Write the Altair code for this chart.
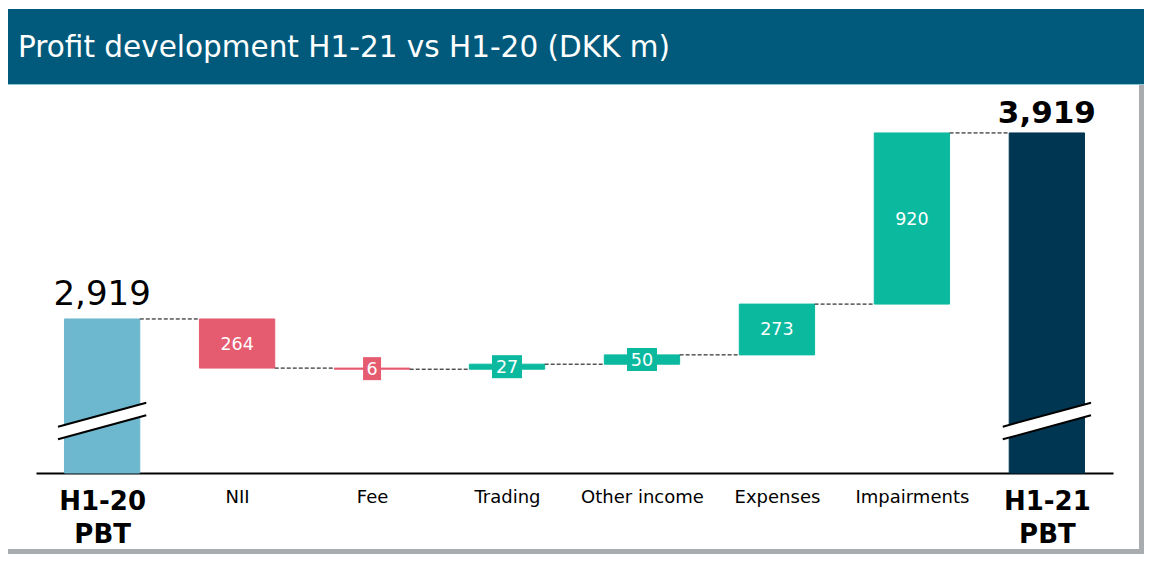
import json
import altair as alt
import pandas as pd

# ---- data ----
categories = ["H1-20 PBT", "NII", "Fee", "Trading", "Other income", "Expenses", "Impairments", "H1-21 PBT"]
axis_lines = [["H1-20", "PBT"], "NII", "Fee", "Trading", "Other income", "Expenses", "Impairments", ["H1-21", "PBT"]]
amounts = [2919, -264, -6, 27, 50, 273, 920, 3919]
kinds = ["start", "change", "change", "change", "change", "change", "change", "end"]
value_labels = ["2,919", "264", "6", "27", "50", "273", "920", "3,919"]
title_text = "Profit development H1-21 vs H1-20 (DKK m)"

# ---- layout / style ----
PLOT_W, PLOT_H = 1077, 378
X_LO, X_HI = -0.49, 7.49
Y_LO, Y_HI = 2091, 4123          # broken value axis
HALF = 0.279                     # half bar width in x units
FONT = "DejaVu Sans"
C_START, C_END, C_POS, C_NEG = "#6db8ce", "#003652", "#0bb99f", "#e55b6f"
HEADER = "#015a7b"
BORDER = "#a9acaf"

px_y = PLOT_H / (Y_HI - Y_LO)
px_x = PLOT_W / (X_HI - X_LO)

rows, conns, breaks = [], [], []
running = 0
for i, (cat, v, k, lab) in enumerate(zip(categories, amounts, kinds, value_labels)):
    if k == "change":
        base, top = running, running + v
        color = C_POS if v >= 0 else C_NEG
    else:
        base, top = 0, v
        color = C_START if k == "start" else C_END
    running = top
    lo, hi = min(base, top), max(base, top)
    mid = (max(lo, Y_LO) + hi) / 2
    bw = (6 + 12 * len(lab)) / px_x / 2
    bh = 11.5 / px_y
    rows.append(dict(idx=i, cat=cat, kind=k, x0=i - HALF, x1=i + HALF, lo=lo, hi=hi,
                     mid=mid, color=color, label=lab,
                     bx0=i - bw, bx1=i + bw, by0=mid - bh, by1=mid + bh))
    if i < len(categories) - 1:
        conns.append(dict(x0=i + HALF, x1=i + 1 - HALF, y=top))
    if k != "change":
        # break marker (decoration) across the total bars
        bl, br = Y_LO + 215, Y_LO + 344
        g = 34
        for xx, c in ((i - 0.327, bl), (i + 0.327, br)):
            breaks.append(dict(g=i, bx=xx, up=c + g, dn=c - g))

df = pd.DataFrame(rows)
dc = pd.DataFrame(conns)
dbk = pd.DataFrame(breaks)

xs = alt.Scale(domain=[X_LO, X_HI], nice=False, zero=False)
ys = alt.Scale(domain=[Y_LO, Y_HI], nice=False, zero=False, clamp=True)

label_expr = json.dumps(axis_lines) + "[datum.value]"
is_total = "datum.value == 0 || datum.value == 7"

base = alt.Chart(df)

bars = base.mark_bar(strokeWidth=1).encode(
    x=alt.X("x0:Q", scale=xs, axis=alt.Axis(
        values=list(range(len(categories))), labelExpr=label_expr, title=None,
        ticks=False, grid=False, domainColor="black", domainWidth=2,
        labelFont=FONT, labelColor="black", labelPadding=15, labelLineHeight=33,
        labelFlush=False, labelOverlap=False, labelBaseline="top",
        labelFontSize={"condition": {"test": is_total, "value": 26}, "value": 18},
        labelFontWeight={"condition": {"test": is_total, "value": "bold"}, "value": "normal"},
    )),
    x2="x1:Q",
    y=alt.Y("lo:Q", scale=ys, axis=None),
    y2="hi:Q",
    color=alt.Color("color:N", scale=None),
    stroke=alt.Stroke("color:N", scale=None),
)

boxes = base.transform_filter("datum.kind == 'change'").mark_rect().encode(
    x=alt.X("bx0:Q", scale=xs), x2="bx1:Q",
    y=alt.Y("by0:Q", scale=ys), y2="by1:Q",
    color=alt.Color("color:N", scale=None),
)

change_text = base.transform_filter("datum.kind == 'change'").mark_text(
    font=FONT, fontSize=17.5, color="white", baseline="middle", align="center", dy=1
).encode(x=alt.X("idx:Q", scale=xs), y=alt.Y("mid:Q", scale=ys), text="label:N")

start_text = base.transform_filter("datum.kind == 'start'").mark_text(
    font=FONT, fontSize=34, color="black", baseline="alphabetic", align="center", dy=-14
).encode(x=alt.X("idx:Q", scale=xs), y=alt.Y("hi:Q", scale=ys), text="label:N")

end_text = base.transform_filter("datum.kind == 'end'").mark_text(
    font=FONT, fontSize=31, fontWeight="bold", color="black", baseline="alphabetic", align="center", dy=-10
).encode(x=alt.X("idx:Q", scale=xs), y=alt.Y("hi:Q", scale=ys), text="label:N")

connectors = alt.Chart(dc).mark_rule(color="black", strokeWidth=1, strokeDash=[4, 2]).encode(
    x=alt.X("x0:Q", scale=xs), x2="x1:Q", y=alt.Y("y:Q", scale=ys)
)

brk_fill = alt.Chart(dbk).mark_area(color="white", opacity=1).encode(
    x=alt.X("bx:Q", scale=xs), y=alt.Y("up:Q", scale=ys), y2="dn:Q", detail="g:N"
)
brk_up = alt.Chart(dbk).mark_line(color="black", strokeWidth=2).encode(
    x=alt.X("bx:Q", scale=xs), y=alt.Y("up:Q", scale=ys), detail="g:N"
)
brk_dn = alt.Chart(dbk).mark_line(color="black", strokeWidth=2).encode(
    x=alt.X("bx:Q", scale=xs), y=alt.Y("dn:Q", scale=ys), detail="g:N"
)

# ---- frame decorations: header band and grey border ----
deco = alt.Chart(pd.DataFrame({"t": [title_text]}))
header = deco.mark_rect(color=HEADER).encode(
    x=alt.value(-40), x2=alt.value(1120), y=alt.value(-86), y2=alt.value(-11))
header_line = deco.mark_rule(color="#8fc3d6", strokeWidth=1).encode(
    x=alt.value(-40), x2=alt.value(1120), y=alt.value(-10.5))
right_border = deco.mark_rect(color=BORDER).encode(
    x=alt.value(1103), x2=alt.value(1120), y=alt.value(-10), y2=alt.value(470))
bottom_border = deco.mark_rect(color=BORDER).encode(
    x=alt.value(-40), x2=alt.value(1120), y=alt.value(454), y2=alt.value(470))
title = deco.mark_text(font=FONT, fontSize=29.5, color="white", align="left", baseline="alphabetic").encode(
    x=alt.value(-18), y=alt.value(-38), text="t:N")

chart = alt.layer(
    header, header_line, right_border, bottom_border, title,
    bars, connectors, brk_fill, brk_up, brk_dn, boxes, change_text, start_text, end_text
).properties(
    width=PLOT_W, height=PLOT_H,
    padding={"left": 28, "top": 87, "right": 31, "bottom": 81},
    autosize=alt.AutoSizeParams(type="none"),
).configure_view(stroke=None)

chart.save("out.html", embed_options={"renderer": "svg", "actions": False})
